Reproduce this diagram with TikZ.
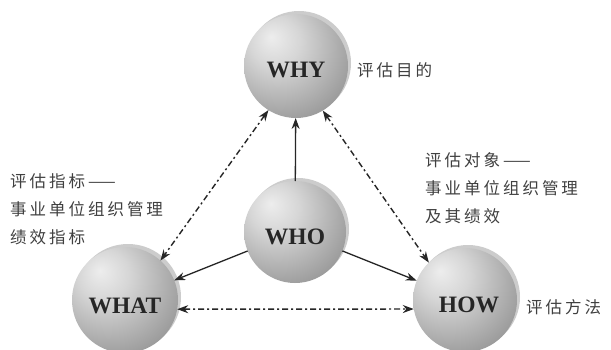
\documentclass[tikz,border=0pt]{standalone}
\usepackage{fontspec}
\setmainfont{Liberation Serif}
\newfontfamily\cjk[LetterSpace=18]{Noto Sans CJK SC}
\usetikzlibrary{arrows.meta}
% soft grey sphere, lit from the upper left
\pgfdeclareradialshading{sphere}{\pgfpoint{-12bp}{14bp}}{%
  color(0bp)=(black!7); color(12bp)=(black!16); color(30bp)=(black!34);
  color(48bp)=(black!52); color(62bp)=(black!60); color(80bp)=(black!60)}
\begin{document}
\begin{tikzpicture}[x=1pt,y=-1pt,
  ball/.style={circle,minimum size=#1,inner sep=0pt,outer sep=0pt,shading=sphere},
  rim/.style={circle,minimum size=#1,inner sep=0pt,fill=black!20},
  word/.style={font=\bfseries\fontsize{23.5}{23.5}\selectfont,text=black!85},
  note/.style={font=\cjk\fontsize{16.5}{28}\selectfont,text=black!75,align=left,anchor=west,inner sep=0pt},
  link/.style={line width=1.3pt,draw=black!85,-{Stealth[length=11pt,width=8pt]}},
  both/.style={line width=1.4pt,draw=black!85,dash pattern=on 6pt off 3pt on 2pt off 3pt,
    {Stealth[length=11pt,width=8pt]}-{Stealth[length=11pt,width=8pt]}}]
\useasboundingbox (0,0) rectangle (611,350);
\clip (0,0) rectangle (611,350);
\fill[white] (0,0) rectangle (611,350);

% light rims behind the spheres
\node[rim=104pt] (whyrim)  at (299,63)  {};
\node[rim=102pt] (whorim)  at (298,229) {};
\node[rim=106pt] (whatrim) at (128,297) {};
\node[rim=104pt] (howrim)  at (468,297) {};

% spheres
\node[ball=104pt] (why)  at (296,66)  {};
\node[ball=102pt] (who)  at (295,232) {};
\node[ball=106pt] (what) at (125,300) {};
\node[ball=104pt] (how)  at (465,300) {};

% sphere captions
\node[word] (whyt)  at (296,70)  {WHY};
\node[word] (whot)  at (295,237) {WHO};
\node[word] (whatt) at (125,306) {WHAT};
\node[word] (howt)  at (469,305) {HOW};

% side notes
\node[note] (whynote) at (357,70) {评估目的};
\node[note] (hownote) at (526,307) {评估方法};
\node[note] (whatnote) at (10,209) {评估指标——\\事业单位组织管理\\绩效指标};
\node[note] (hownote2) at (425,188) {评估对象——\\事业单位组织管理\\及其绩效};

% connectors
\draw[link] (who) -- (why);
\draw[link] (who) -- (what);
\draw[link] (who) -- (how);
\draw[both] (why.238) -- (what.48);
\draw[both] (why.301) -- (how.134);
\draw[both] (what.-10) -- (how.190);
\end{tikzpicture}
\end{document}
